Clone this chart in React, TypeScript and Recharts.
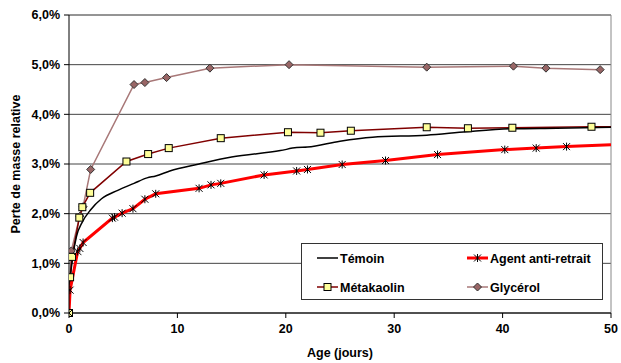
import React from 'react';
import { LineChart, Line, XAxis, YAxis, CartesianGrid, Legend, ReferenceLine } from 'recharts';

// Age (jours) / perte de masse relative (%)
const temoinDays = [0, 0.1, 0.3, 0.7, 1.2, 2, 3, 4.5, 6, 7.2, 8, 9.3, 12, 15, 19.5, 21, 22, 25, 28, 33, 36.7, 41, 45, 50];
const temoinLoss = [0, 0.6, 1.05, 1.55, 1.82, 2.08, 2.3, 2.47, 2.61, 2.72, 2.76, 2.86, 3.0, 3.14, 3.27, 3.33, 3.34, 3.46, 3.54, 3.58, 3.65, 3.71, 3.72, 3.74];

const agentDays = [0, 0.1, 0.8, 1.0, 1.3, 4, 4.2, 4.9, 5.9, 7, 8, 12, 13.1, 14, 18, 21, 22, 25.2, 29.2, 34, 40.2, 43.1, 45.9, 50];
const agentLoss = [0, 0.46, 1.24, 1.3, 1.42, 1.91, 1.93, 2.01, 2.1, 2.29, 2.4, 2.51, 2.58, 2.61, 2.78, 2.86, 2.89, 2.99, 3.07, 3.19, 3.29, 3.32, 3.35, 3.39];

const metaDays = [0, 0.1, 0.28, 0.95, 1.23, 1.95, 5.3, 7.3, 9.2, 14, 20.2, 23.2, 26, 33, 36.8, 40.9, 48.2, 50];
const metaLoss = [0, 0.72, 1.13, 1.92, 2.13, 2.42, 3.05, 3.2, 3.32, 3.52, 3.64, 3.63, 3.67, 3.74, 3.72, 3.73, 3.75, 3.75];

const glyDays = [0, 0.21, 1.0, 1.3, 2, 6, 7, 9, 13, 20.3, 33, 41, 44, 49];
const glyLoss = [0, 1.25, 1.95, 2.14, 2.89, 4.6, 4.64, 4.74, 4.93, 5.0, 4.95, 4.97, 4.93, 4.9];

const xTicks = [0, 10, 20, 30, 40, 50];
const yTicks = [0, 1, 2, 3, 4, 5, 6];

const toPoints = (days: number[], loss: number[]) => days.map((d, i) => ({ day: d, value: loss[i] }));

const temoin = toPoints(temoinDays, temoinLoss);
const agent = toPoints(agentDays, agentLoss);
const meta = toPoints(metaDays, metaLoss);
const gly = toPoints(glyDays, glyLoss);

const font = '"Liberation Sans", Arial, sans-serif';
const fs = 12.5;

const Square = ({ cx, cy }: any) => (
  <rect x={cx - 3.5} y={cy - 3.5} width={7} height={7} fill="#ffff99" stroke="#000" strokeWidth={1} />
);
const Diamond = ({ cx, cy }: any) => (
  <polygon points={`${cx},${cy - 4} ${cx + 4},${cy} ${cx},${cy + 4} ${cx - 4},${cy}`} fill="#996666" stroke="#333" strokeWidth={1} />
);
const Star = ({ cx, cy }: any) => (
  <g stroke="#000" strokeWidth={1}>
    <line x1={cx - 3.5} y1={cy - 3.5} x2={cx + 3.5} y2={cy + 3.5} />
    <line x1={cx - 3.5} y1={cy + 3.5} x2={cx + 3.5} y2={cy - 3.5} />
    <line x1={cx} y1={cy - 4} x2={cx} y2={cy + 4} />
  </g>
);

// last point of some series only carries the line to the border, no marker
const dotFor = (Shape: any, n: number, skipLast: boolean) => (props: any) => {
  const { cx, cy, index } = props;
  if (skipLast && index === n - 1) return <g key={`d-${index}`} />;
  return <g key={`d-${index}`}><Shape cx={cx} cy={cy} /></g>;
};

const legendItems = [
  { name: 'Témoin', color: '#000', width: 1.5, Shape: null, x: 16, y: 15 },
  { name: 'Agent anti-retrait', color: '#ff0000', width: 3, Shape: Star, x: 166, y: 15 },
  { name: 'Métakaolin', color: '#800000', width: 1.5, Shape: Square, x: 16, y: 44 },
  { name: 'Glycérol', color: '#a87878', width: 1.5, Shape: Diamond, x: 166, y: 44 },
];

const ChartLegend = () => (
  <svg width={302} height={57} style={{ display: 'block' }}>
    <rect x={0.5} y={0.5} width={301} height={56} fill="#fff" stroke="#333" strokeWidth={1} />
    {legendItems.map((it) => (
      <g key={it.name}>
        <line x1={it.x} y1={it.y} x2={it.x + 21} y2={it.y} stroke={it.color} strokeWidth={it.width} />
        {it.Shape && <it.Shape cx={it.x + 10.5} cy={it.y} />}
        <text x={it.x + 23} y={it.y + 4.5} fontFamily={font} fontWeight="bold" fontSize={fs} fill="#000">
          {it.name}
        </text>
      </g>
    ))}
  </svg>
);

const fmtPct = (v: number) => `${v.toFixed(1).replace('.', ',')}%`;

const App: React.FC = () => {
  return (
    <div style={{ position: 'absolute', left: 0, top: 0, background: '#fff' }}>
      <LineChart width={621} height={363} margin={{ top: 15, right: 10, left: 9, bottom: 5 }}>
        <CartesianGrid vertical={false} stroke="#444" />
        <XAxis
          dataKey="day"
          type="number"
          domain={[0, 50]}
          ticks={xTicks}
          allowDataOverflow
          height={45}
          stroke="#000"
          tickSize={5}
          tickMargin={6}
          tick={{ fontFamily: font, fontWeight: 'bold', fontSize: fs, fill: '#000' }}
          label={{ value: 'Age (jours)', position: 'insideBottom', offset: 1, style: { fontFamily: font, fontWeight: 'bold', fontSize: fs, fill: '#000' } }}
        />
        <YAxis
          type="number"
          domain={[0, 6]}
          ticks={yTicks}
          width={60}
          stroke="#000"
          tickSize={5}
          tickMargin={4}
          tickFormatter={fmtPct}
          tick={{ fontFamily: font, fontWeight: 'bold', fontSize: fs, fill: '#000' }}
          label={{ value: 'Perte de masse relative', angle: -90, position: 'insideLeft', offset: 7, style: { textAnchor: 'middle', fontFamily: font, fontWeight: 'bold', fontSize: fs, fill: '#000' } }}
        />
        <ReferenceLine y={6} stroke="#888" />
        <ReferenceLine x={50} stroke="#888" />
        <Line data={gly} dataKey="value" type="linear" stroke="#a87878" strokeWidth={1.5} dot={dotFor(Diamond, gly.length, false)} isAnimationActive={false} />
        <Line data={meta} dataKey="value" type="linear" stroke="#800000" strokeWidth={1.5} dot={dotFor(Square, meta.length, true)} isAnimationActive={false} />
        <Line data={temoin} dataKey="value" type="monotone" stroke="#000" strokeWidth={1.5} dot={false} isAnimationActive={false} />
        <Line data={agent} dataKey="value" type="linear" stroke="#ff0000" strokeWidth={3} dot={dotFor(Star, agent.length, true)} isAnimationActive={false} />
        <Legend
          layout="horizontal"
          verticalAlign="middle"
          align="center"
          content={<ChartLegend />}
          wrapperStyle={{ left: 301, top: 243, width: 302, height: 57 }}
        />
      </LineChart>
    </div>
  );
};

export default App;
